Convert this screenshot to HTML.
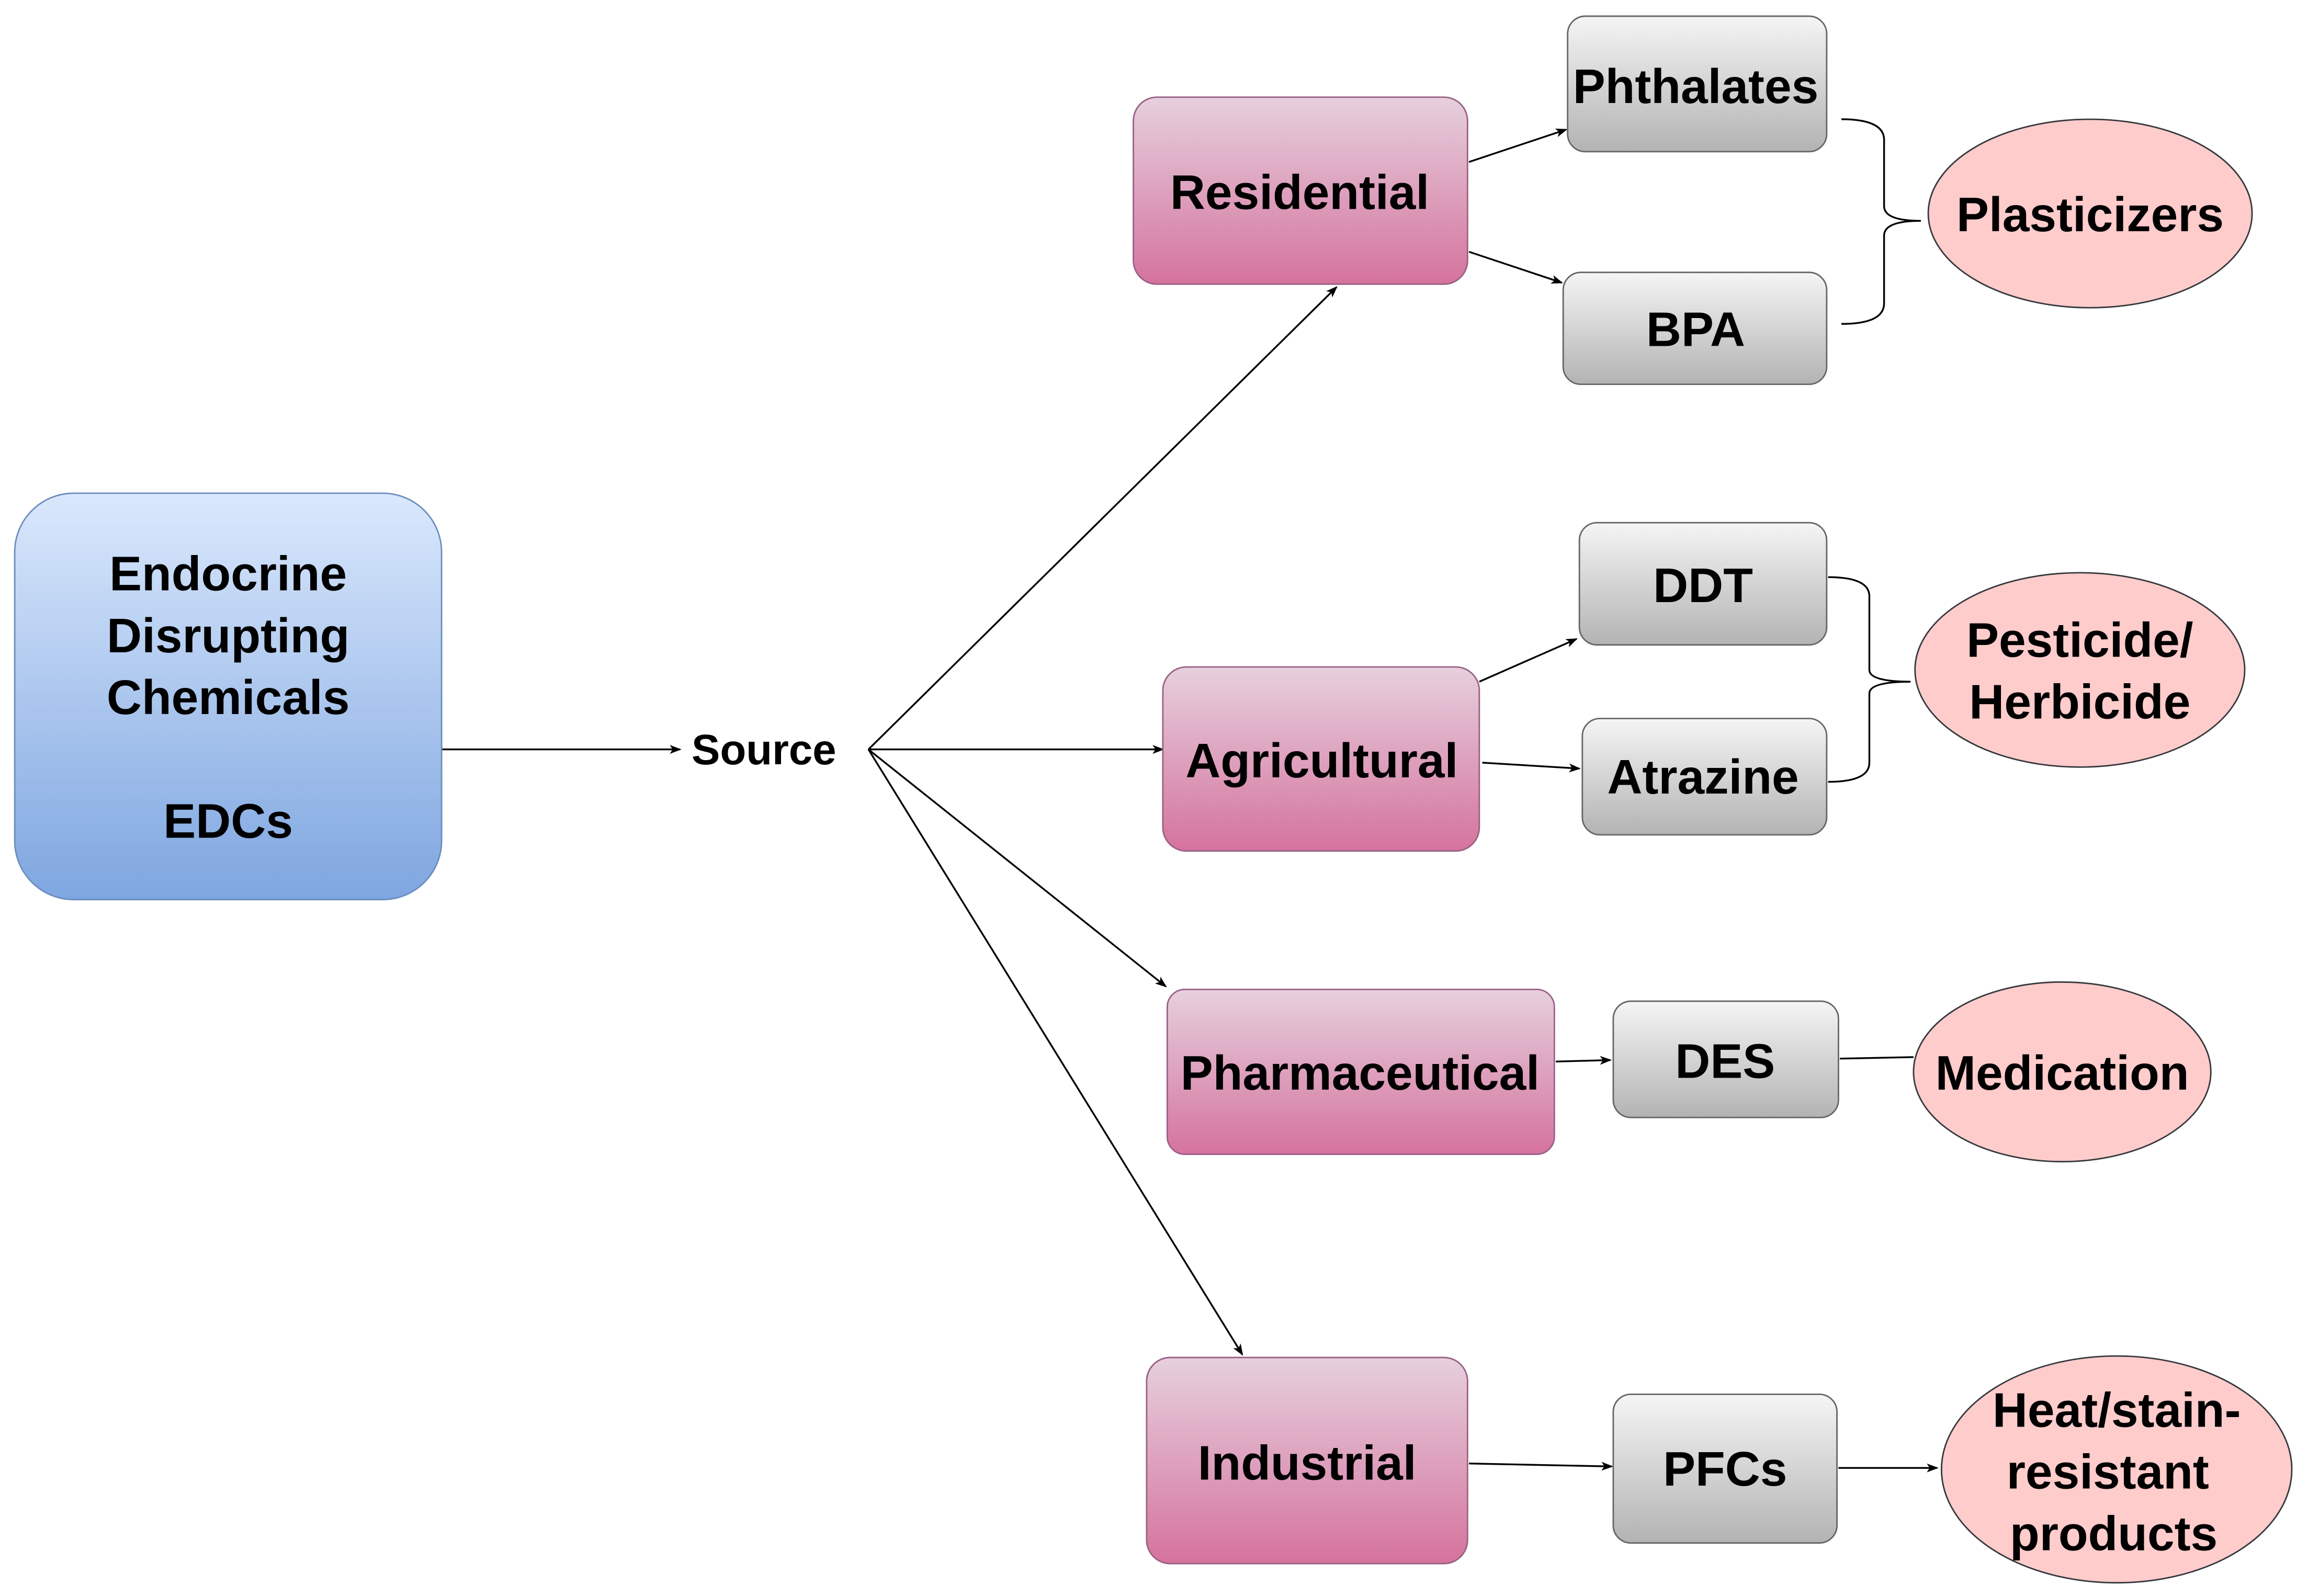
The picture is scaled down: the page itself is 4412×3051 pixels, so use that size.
<!DOCTYPE html>
<html><head><meta charset="utf-8"><style>html,body{margin:0;padding:0;background:#fff}svg{display:block}</style></head><body>
<svg width="4412" height="3051" viewBox="0 0 1568 1084" preserveAspectRatio="none" xmlns="http://www.w3.org/2000/svg" font-family="Liberation Sans, sans-serif" font-weight="bold">
<defs>
<linearGradient id="b" x1="0" y1="0" x2="0" y2="1"><stop offset="0" stop-color="#dae8fc"/><stop offset="1" stop-color="#7ea6e0"/></linearGradient>
<linearGradient id="p" x1="0" y1="0" x2="0" y2="1"><stop offset="0" stop-color="#e6d0de"/><stop offset="1" stop-color="#d5739d"/></linearGradient>
<linearGradient id="g" x1="0" y1="0" x2="0" y2="1"><stop offset="0" stop-color="#f5f5f5"/><stop offset="1" stop-color="#b3b3b3"/></linearGradient>
<marker id="a" markerWidth="8" markerHeight="8" refX="7" refY="4" orient="auto" markerUnits="userSpaceOnUse"><path d="M0,1 L8,4 L0,7 L2,4Z" fill="#000"/></marker>
</defs>
<g stroke="#000" stroke-width="1.2" fill="none">
<line x1="300" y1="509" x2="462" y2="509" marker-end="url(#a)"/>
<line x1="590" y1="509" x2="908" y2="195" marker-end="url(#a)"/>
<line x1="590" y1="509" x2="790" y2="509" marker-end="url(#a)"/>
<line x1="590" y1="509" x2="792" y2="670" marker-end="url(#a)"/>
<line x1="590" y1="509" x2="844" y2="920" marker-end="url(#a)"/>
<line x1="998" y1="110" x2="1064" y2="88" marker-end="url(#a)"/>
<line x1="998" y1="171" x2="1061" y2="192" marker-end="url(#a)"/>
<line x1="1005" y1="463" x2="1071" y2="434" marker-end="url(#a)"/>
<line x1="1007" y1="518" x2="1073" y2="522" marker-end="url(#a)"/>
<line x1="1057" y1="721" x2="1094" y2="720" marker-end="url(#a)"/>
<line x1="1250" y1="719" x2="1300" y2="718"/>
<line x1="998" y1="994" x2="1095" y2="996" marker-end="url(#a)"/>
<line x1="1249" y1="997" x2="1316" y2="997" marker-end="url(#a)"/>
<path d="M1251,81 Q1280,81 1280,95 L1280,140 Q1280,150 1305,150 Q1280,150 1280,160 L1280,206 Q1280,220 1251,220"/>
<path d="M1242,392 Q1270,392 1270,405 L1270,455 Q1270,463 1298,463 Q1270,463 1270,471 L1270,518 Q1270,531 1242,531"/>
</g>
<g stroke="#6c8ebf" stroke-width="1"><rect x="10" y="335" width="290" height="276" rx="40" fill="url(#b)"/></g>
<g stroke="#996185" stroke-width="1" fill="url(#p)">
<rect x="770" y="66" width="227" height="127" rx="16"/>
<rect x="790" y="453" width="215" height="125" rx="16"/>
<rect x="793" y="672" width="263" height="112" rx="12"/>
<rect x="779" y="922" width="218" height="140" rx="16"/>
</g>
<g stroke="#666" stroke-width="1" fill="url(#g)">
<rect x="1065" y="11" width="176" height="92" rx="12"/>
<rect x="1062" y="185" width="179" height="76" rx="12"/>
<rect x="1073" y="355" width="168" height="83" rx="12"/>
<rect x="1075" y="488" width="166" height="79" rx="12"/>
<rect x="1096" y="680" width="153" height="79" rx="12"/>
<rect x="1096" y="947" width="152" height="101" rx="12"/>
</g>
<g stroke="#36393d" stroke-width="1" fill="#ffcccc">
<ellipse cx="1420" cy="145" rx="110" ry="64"/>
<ellipse cx="1413" cy="455" rx="112" ry="66"/>
<ellipse cx="1401" cy="728" rx="101" ry="61"/>
<ellipse cx="1438" cy="998" rx="119" ry="77"/>
</g>
<g fill="#000" text-anchor="middle" font-size="33">
<text x="155" y="401">Endocrine</text>
<text x="155" y="443">Disrupting</text>
<text x="155" y="485">Chemicals</text>
<text x="155" y="569">EDCs</text>
<text x="519" y="519" font-size="29">Source</text>
<text x="883" y="142">Residential</text>
<text x="898" y="528">Agricultural</text>
<text x="924" y="740">Pharmaceutical</text>
<text x="888" y="1005">Industrial</text>
<text x="1152" y="70">Phthalates</text>
<text x="1152" y="235">BPA</text>
<text x="1157" y="409">DDT</text>
<text x="1157" y="539">Atrazine</text>
<text x="1172" y="732">DES</text>
<text x="1172" y="1009">PFCs</text>
<text x="1420" y="157">Plasticizers</text>
<text x="1413" y="446">Pesticide/</text>
<text x="1413" y="488">Herbicide</text>
<text x="1401" y="740">Medication</text>
<text x="1438" y="969">Heat/stain-</text>
<text x="1432" y="1011">resistant</text>
<text x="1436" y="1053">products</text>
</g>
</svg>
</body></html>
